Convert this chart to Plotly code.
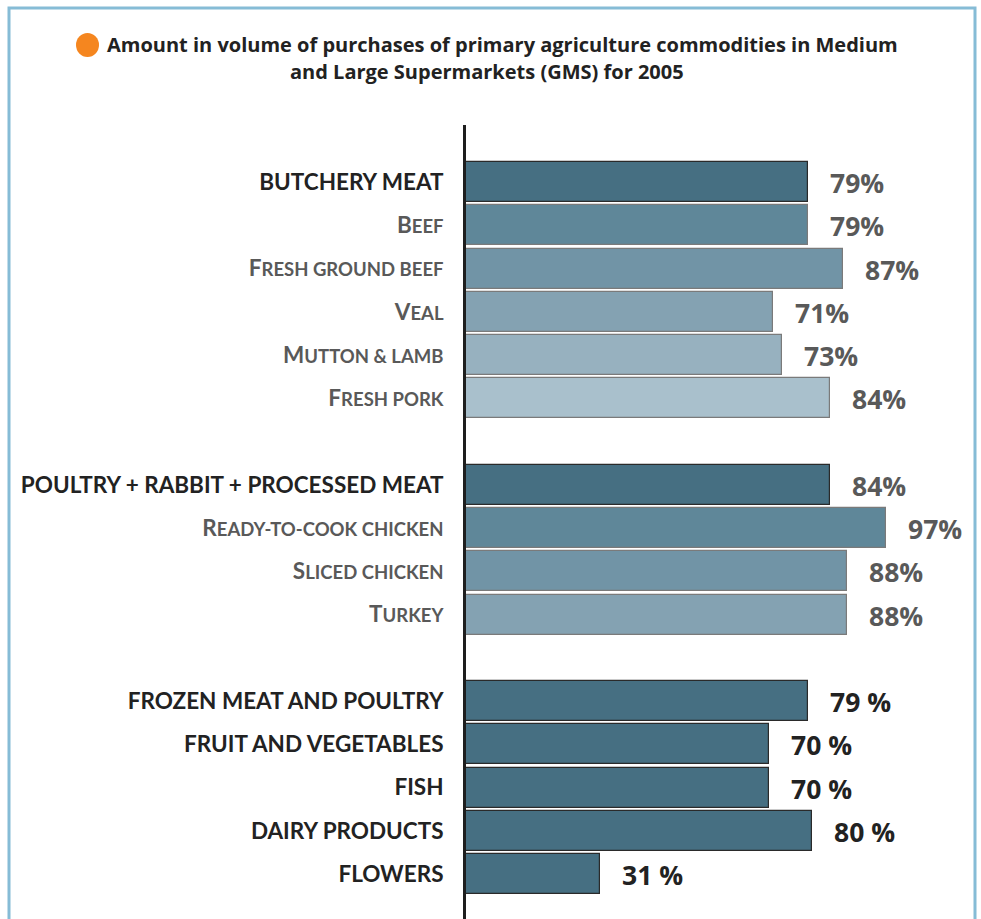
import plotly.graph_objects as go

# ---- data -------------------------------------------------------------
butchery_labels = ["BUTCHERY MEAT", "Beef", "Fresh ground beef", "Veal", "Mutton & lamb", "Fresh pork"]
butchery_values = [79, 79, 87, 71, 73, 84]

poultry_labels = ["POULTRY + RABBIT + PROCESSED MEAT", "Ready-to-cook chicken", "Sliced chicken", "Turkey"]
poultry_values = [84, 97, 88, 88]

other_labels = ["FROZEN MEAT AND POULTRY", "FRUIT AND VEGETABLES", "FISH", "DAIRY PRODUCTS", "FLOWERS"]
other_values = [79, 70, 70, 80, 31]

title_lines = [
    "Amount in volume of purchases of primary agriculture commodities in Medium",
    "and Large Supermarkets (GMS) for 2005",
]

# ---- styling -----------------------------------------------------------
W, H = 981, 919
shades = ["#466f82", "#5f8799", "#7194a6", "#84a2b2", "#97b1bf", "#a9c0cc"]
DARK_TXT = "#222222"
GREY_TXT = "#595959"
LABEL_FONT = "Lato"
VALUE_FONT = "Open Sans"
BIG, SMALL = 22.5, 18.5


def small_caps(s):
    return f"<b>{s[0]}<span style='font-size:{SMALL}px'>{s[1:].upper()}</span></b>"


# Build rows: each group is followed by an empty slot
ys, xs, colors, lines, ticktext, vtext, vcolor = [], [], [], [], [], [], []
pos = 0
for labels, values in [(butchery_labels, butchery_values), (poultry_labels, poultry_values)]:
    for i, (lab, val) in enumerate(zip(labels, values)):
        ys.append(pos)
        xs.append(val)
        colors.append(shades[i])
        lines.append("#2a2a2a" if i == 0 else "#7a7a7a")
        ticktext.append(f"<span style='color:{DARK_TXT}'><b>{lab}</b></span>" if i == 0
                        else f"<span style='color:{GREY_TXT}'>{small_caps(lab)}</span>")
        vtext.append(f"{val}%")
        vcolor.append(GREY_TXT)
        pos += 1
    pos += 1
for lab, val in zip(other_labels, other_values):
    ys.append(pos)
    xs.append(val)
    colors.append(shades[0])
    lines.append("#2a2a2a")
    ticktext.append(f"<span style='color:{DARK_TXT}'><b>{lab}</b></span>")
    vtext.append(f"{val} %")
    vcolor.append(DARK_TXT)
    pos += 1

fig = go.Figure(go.Bar(
    x=xs, y=ys, orientation="h", width=0.925,
    marker=dict(color=colors, line=dict(color=lines, width=1.2)),
    hoverinfo="skip",
))

# pixel geometry of the plotting area
x0_px, x100_px = 466, 899          # 0 % and 100 %
row0_px, row_step = 182, 43.25     # centre of first row, row spacing
top_px = 125
y_top = (top_px - row0_px) / row_step
y_bot = (H - row0_px) / row_step

annotations = []
for x, y, t, c in zip(xs, ys, vtext, vcolor):
    annotations.append(dict(
        x=x, y=y, xref="x", yref="y", text=f"<b>{t}</b>", showarrow=False,
        xanchor="left", yanchor="middle", xshift=20, yshift=-1,
        font=dict(family=VALUE_FONT, size=26.5, color=c),
    ))

title_y = [44, 72]
for line, ty in zip(title_lines, title_y):
    annotations.append(dict(
        x=(502 if ty == 44 else 487) / W, y=1 - ty / H, xref="paper", yref="paper",
        text=f"<b>{line}</b>", showarrow=False, xanchor="center", yanchor="middle",
        font=dict(family=VALUE_FONT, size=20, color=DARK_TXT),
    ))

fig.update_layout(
    width=W, height=H,
    margin=dict(l=0, r=0, t=0, b=0),
    paper_bgcolor="white", plot_bgcolor="white",
    showlegend=False,
    bargap=0,
    xaxis=dict(domain=[x0_px / W, x100_px / W], range=[0, 100], visible=False, fixedrange=True),
    yaxis=dict(
        domain=[0, 1 - top_px / H], range=[y_bot, y_top],
        tickvals=ys, ticktext=ticktext,
        tickfont=dict(family=LABEL_FONT, size=BIG, color=DARK_TXT),
        ticks="outside", ticklen=15, tickcolor="rgba(0,0,0,0)",
        showline=True, linecolor="#1e1e1e", linewidth=3,
        showgrid=False, zeroline=False, fixedrange=True,
    ),
    annotations=annotations,
    shapes=[
        dict(type="rect", xref="paper", yref="paper",
             x0=9 / W, x1=975 / W, y0=-0.05, y1=1 - 8 / H,
             line=dict(color="#86bcd6", width=3), fillcolor="rgba(0,0,0,0)", layer="below"),
        dict(type="circle", xref="paper", yref="paper",
             x0=76 / W, x1=99 / W, y0=1 - 57 / H, y1=1 - 33 / H,
             line=dict(width=0), fillcolor="#f5861f"),
    ],
)

fig.write_html("out.html")
